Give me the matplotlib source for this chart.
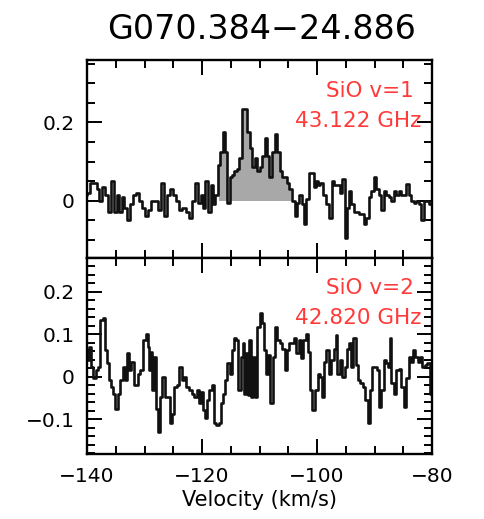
import numpy as np
import matplotlib
matplotlib.use("Agg")
import matplotlib.pyplot as plt
from matplotlib.ticker import MultipleLocator, FuncFormatter

plt.rcParams['font.family'] = ['DejaVu Sans']

title = "G070.384\u221224.886"
xlabel = "Velocity (km/s)"
line_labels_1 = ["SiO v=1", "43.122 GHz"]
line_labels_2 = ["SiO v=2", "42.820 GHz"]
fill_range_1 = (-117.2, -104.2)

# SiO v=1 spectrum (velocity km/s, intensity)
vel1 = [-140.3, -139.8, -139.2, -138.6, -138.0, -137.7, -137.2, -136.6, -136.0, -135.6,
        -135.1, -134.6, -134.1, -133.7, -133.3, -132.8, -132.2, -131.7, -131.2, -130.6,
        -130.2, -129.6, -129.1, -128.5, -127.9, -127.5, -126.9, -126.4, -125.9, -125.4,
        -124.8, -124.2, -123.7, -123.1, -122.5, -121.9, -121.5, -120.9, -120.5, -119.9,
        -119.6, -119.2, -118.7, -118.3, -117.9, -117.5, -117.0, -116.6, -116.2, -115.8,
        -115.4, -115.0, -114.6, -114.1, -113.7, -113.3, -112.8, -112.4, -111.9, -111.5,
        -111.1, -110.6, -110.2, -109.8, -109.3, -108.9, -108.5, -108.1, -107.6, -107.1,
        -106.7, -106.3, -105.9, -105.4, -105.0, -104.6, -104.1, -103.7, -103.3, -102.8,
        -102.5, -102.1, -101.7, -101.2, -100.8, -100.4, -99.9, -99.6, -99.2, -98.7,
        -98.3, -97.7, -97.2, -96.8, -96.2, -95.8, -95.4, -95.0, -94.7, -94.3,
        -93.9, -93.4, -92.9, -92.5, -92.1, -91.7, -91.2, -90.8, -90.4, -89.9,
        -89.5, -89.1, -88.6, -88.2, -87.7, -87.3, -86.9, -86.4, -86.0, -85.6,
        -85.2, -84.7, -84.2, -83.8, -83.4, -83.0, -82.5, -82.1, -81.7, -81.2,
        -80.8, -80.35, -80.0]
int1 = [0.015, 0.02, 0.045, 0.045, 0.03, 0.0, 0.035, 0.015, -0.03, 0.05,
        -0.03, 0.015, -0.03, 0.01, -0.02, -0.05, -0.01, 0.015, 0.02, 0.0,
        -0.02, -0.04, -0.025, 0.0, 0.0, -0.025, 0.045, -0.04, 0.015, 0.03,
        0.015, 0.0, -0.025, -0.02, -0.03, -0.045, 0.0, 0.045, -0.005, 0.015,
        -0.02, 0.05, -0.03, 0.04, -0.01, 0.015, 0.09, 0.125, 0.175, 0.125,
        -0.007, 0.06, 0.065, 0.075, 0.08, 0.11, 0.235, 0.235, 0.175, 0.135,
        0.085, 0.11, 0.075, 0.085, 0.115, 0.16, 0.115, 0.06, 0.125, 0.17,
        0.125, 0.075, 0.06, 0.06, 0.045, 0.03, 0.0, -0.04, -0.007, 0.015,
        -0.01, -0.06, 0.005, 0.07, 0.07, 0.035, 0.05, 0.04, 0.045, 0.015,
        -0.01, -0.045, 0.05, 0.04, 0.04, 0.02, 0.055, -0.095, -0.02, 0.025,
        -0.01, -0.03, -0.03, -0.035, -0.035, -0.06, -0.045, 0.01, 0.025, 0.06,
        0.03, 0.015, -0.025, 0.025, 0.015, 0.01, 0.0, 0.025, 0.015, 0.025,
        0.015, 0.015, 0.042, 0.015, 0.0, -0.007, 0.0, -0.01, -0.05, 0.0,
        0.0, -0.01, -0.01]

# SiO v=2 spectrum
vel2 = [-140.3, -139.8, -139.5, -139.1, -138.7, -138.3, -137.9, -137.5, -137.0, -136.6,
        -136.3, -136.0, -135.7, -135.3, -134.8, -134.4, -134.0, -133.6, -133.3, -132.9,
        -132.5, -132.1, -131.7, -131.3, -130.9, -130.5, -130.0, -129.6, -129.3, -129.0,
        -128.8, -128.5, -128.2, -127.9, -127.5, -127.1, -126.7, -126.3, -125.9, -125.4,
        -125.0, -124.6, -124.2, -123.7, -123.3, -122.9, -122.5, -122.0, -121.6, -121.2,
        -120.7, -120.3,
        -120.1, -119.7, -119.3, -118.9, -118.5, -118.1, -117.7, -117.3, -116.9, -116.6,
        -116.2, -115.8, -115.4, -115.0, -114.7, -114.3, -113.9, -113.5, -113.1, -112.8,
        -112.5, -112.2, -111.9, -111.6, -111.4, -111.0, -110.6, -110.2, -109.8, -109.4,
        -109.0, -108.6, -108.3, -107.9, -107.5, -107.1, -106.7, -106.3, -105.9, -105.4,
        -105.0, -104.6, -104.2, -103.8, -103.4, -103.0, -102.6, -102.2, -101.8, -101.5,
        -101.1, -100.7,
        -100.1, -99.6, -99.2, -98.9, -98.6, -98.1, -97.7, -97.3, -96.9, -96.6,
        -96.3, -95.8, -95.4, -95.0, -94.7, -94.3, -93.9, -93.5, -93.1, -92.7,
        -92.2, -91.8, -91.4, -90.9, -90.6, -90.2, -89.8, -89.4, -89.0, -88.6,
        -88.2, -87.9, -87.5, -87.2, -86.9, -86.4, -86.0, -85.6, -85.2, -84.7,
        -84.2, -83.8, -83.4, -83.1, -82.7, -82.3, -81.9, -81.5, -81.1, -80.6,
        -80.2]
int2 = [0.062, 0.04, 0.07, 0.023, -0.004, 0.015, 0.023, 0.133, 0.137, 0.062,
        0.031, -0.008, -0.024, -0.04, -0.075, -0.04, -0.008, 0.023, -0.008, 0.055,
        0.015, 0.035, -0.02, -0.02, 0.007, 0.015, 0.086, 0.1, 0.07, 0.015,
        0.058, -0.032, 0.047, -0.075, -0.13, -0.047, 0.0, -0.047, -0.047, -0.11,
        -0.087, -0.024, -0.02, 0.023, -0.008, 0.0, -0.024, -0.032, -0.04, -0.047,
        -0.032, -0.063,
        -0.036, -0.079, -0.098, -0.055, -0.032, -0.02, -0.11, -0.114, -0.11, -0.063,
        -0.04, -0.008, 0.031, 0.007, 0.062, 0.09, 0.086, -0.032, 0.047, 0.078,
        -0.04, 0.055, -0.044, 0.086, -0.047, 0.047, -0.047, 0.117, 0.149, 0.125,
        0.062, 0.007, 0.051, -0.063, 0.047, 0.117, 0.086, 0.078, 0.066, 0.015,
        0.062, 0.078, 0.078, 0.09, 0.055, 0.086, 0.043, 0.086, 0.1, 0.058,
        -0.032, -0.079,
        -0.032, 0.007, 0.0, -0.047, 0.035, 0.062, 0.007, 0.039, 0.066, 0.098,
        0.007, 0.039, 0.0, 0.023, 0.066, 0.078, 0.023, 0.09, 0.027, -0.008,
        -0.016, -0.024, -0.055, -0.11, -0.032, 0.023, 0.023, 0.015, -0.071, -0.032,
        0.039, 0.031, 0.023, 0.09, -0.016, -0.04, 0.015, 0.019, -0.024, -0.071,
        -0.004, 0.047, 0.035, 0.062, 0.047, 0.035, 0.047, 0.023, 0.027, 0.031,
        -0.04]

xlim = (-140, -80)
ylim1 = (-0.147, 0.36)
ylim2 = (-0.182, 0.279)

fig = plt.figure(figsize=(4.84, 5.19), dpi=100)
L, R = 87 / 484, 432 / 484
ax1 = fig.add_axes([L, 1 - 258 / 519, R - L, (258 - 60) / 519])
ax2 = fig.add_axes([L, 1 - 454 / 519, R - L, (454 - 258) / 519])


def fmt(v, pos):
    if abs(v) < 1e-9:
        return "0"
    return f"{v:g}".replace("-", "\u2212")


red = '#ff3a3a'
for ax, v, y, ylim, labels, ymaj, ymin in [
        (ax1, vel1, int1, ylim1, line_labels_1, 0.2, 0.05),
        (ax2, vel2, int2, ylim2, line_labels_2, 0.1, 0.02)]:
    v = np.asarray(v)
    y = np.asarray(y)
    if ax is ax1:
        m = (v >= fill_range_1[0]) & (v <= fill_range_1[1])
        ax.fill_between(v[m], y[m], 0, step='mid', color='#a8a8a8', lw=0)
    ax.plot(v, y, drawstyle='steps-mid', color='#111111', lw=1.9)
    ax.set_xlim(*xlim)
    ax.set_ylim(*ylim)
    ax.xaxis.set_major_locator(MultipleLocator(20))
    ax.xaxis.set_minor_locator(MultipleLocator(5))
    ax.yaxis.set_major_locator(MultipleLocator(ymaj))
    ax.yaxis.set_minor_locator(MultipleLocator(ymin))
    ax.yaxis.set_major_formatter(FuncFormatter(fmt))
    ax.xaxis.set_major_formatter(FuncFormatter(fmt))
    ax.tick_params(which='both', direction='in', top=True, right=True,
                   labelsize=14.5, width=1.4, pad=9)
    ax.tick_params(which='major', length=11)
    ax.tick_params(which='minor', length=5.5)
    for s in ax.spines.values():
        s.set_linewidth(1.7)
    ax.text(0.947, 0.815, labels[0], transform=ax.transAxes, ha='right',
            va='baseline', color=red, fontsize=15.5)
    ax.text(0.968, 0.662, labels[1], transform=ax.transAxes, ha='right',
            va='baseline', color=red, fontsize=15.5)

ax1.tick_params(labelbottom=False)
ax2.set_xlabel(xlabel, fontsize=15, labelpad=3)
fig.suptitle(title, x=0.54, y=0.975, fontsize=24)

fig.savefig("out.png", dpi=100)
